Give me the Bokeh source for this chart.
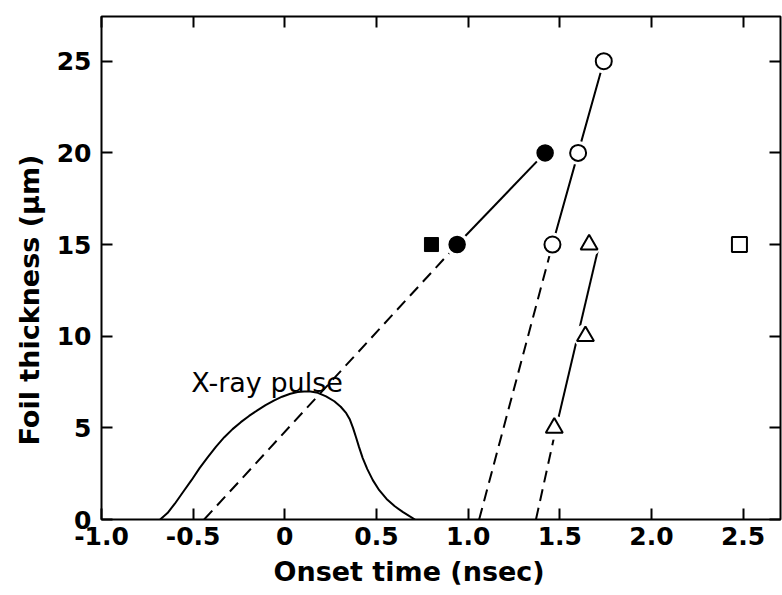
import math
from bokeh.plotting import figure
from bokeh.models import Range1d, FixedTicker, LinearAxis, Label, Title
from bokeh.embed import file_html
from bokeh.resources import INLINE

# ---------------- data ----------------
# onset time (nsec) vs foil thickness (um)
filled_circle_t = [0.94, 1.42]
filled_circle_d = [15, 20]
filled_square_t = [0.80]
filled_square_d = [15]
open_circle_t = [1.46, 1.60, 1.74]
open_circle_d = [15, 20, 25]
triangle_t = [1.47, 1.64, 1.66]
triangle_d = [5, 10, 15]
open_square_t = [2.48]
open_square_d = [15]

# fitted lines: solid through data, dashed extrapolation to zero thickness
fc_solid_t = [0.94, 1.42]
fc_solid_d = [15, 20]
fc_dash_t = [-0.44, 0.94]
fc_dash_d = [0, 15]
oc_solid_t = [1.46, 1.60, 1.74]
oc_solid_d = [15, 20, 25]
oc_dash_t = [1.06, 1.46]
oc_dash_d = [0, 15]
tr_solid_t = [1.48, 1.715]
tr_solid_d = [5, 15]
tr_dash_t = [1.37, 1.48]
tr_dash_d = [0, 5]

# X-ray pulse shape (arbitrary units, drawn on thickness scale)
pulse_t = [-0.68, -0.64, -0.60, -0.555, -0.51, -0.465, -0.42, -0.375, -0.33, -0.285,
           -0.24, -0.195, -0.15, -0.105, -0.06, -0.015, 0.03, 0.07, 0.105, 0.14,
           0.18, 0.225, 0.27, 0.305, 0.335, 0.355, 0.372, 0.388, 0.405, 0.425,
           0.45, 0.48, 0.515, 0.555, 0.60, 0.645, 0.68, 0.71]
pulse_d = [0.0, 0.35, 0.86, 1.50, 2.13, 2.80, 3.40, 3.98, 4.49, 4.93,
           5.31, 5.65, 5.95, 6.24, 6.49, 6.70, 6.86, 6.95, 6.98, 6.98,
           6.91, 6.72, 6.45, 6.15, 5.80, 5.45, 5.00, 4.50, 3.95, 3.35,
           2.75, 2.15, 1.60, 1.12, 0.72, 0.40, 0.18, 0.0]

x_ticks = [-1.0, -0.5, 0.0, 0.5, 1.0, 1.5, 2.0, 2.5]
x_tick_labels = ["-1.0", "-0.5", "0", "0.5", "1.0", "1.5", "2.0", "2.5"]
y_ticks = [0, 5, 10, 15, 20, 25]
y_tick_labels = ["0", "5", "10", "15", "20", "25"]

x_label = "Onset time (nsec)"
y_label = "Foil thickness (\u03bcm)"
pulse_label = "X-ray pulse"

FONT = "DejaVu Sans"

# ---------------- figure ----------------
p = figure(width=782, height=595, output_backend="svg", toolbar_location=None,
           x_range=Range1d(-1.0, 2.704), y_range=Range1d(0, 27.44),
           min_border_left=101, min_border_right=2, min_border_top=16,
           min_border_bottom=76, background_fill_color="white",
           border_fill_color="white")
# the frame outline acts as the four spines
p.outline_line_color = "black"
p.outline_line_width = 2
p.outline_line_alpha = 1.0
p.xgrid.visible = False
p.ygrid.visible = False


def style_axis(ax, ticks, labels, show_labels, standoff):
    ax.ticker = FixedTicker(ticks=ticks)
    ax.minor_tick_line_color = None
    ax.major_tick_in = 11
    ax.major_tick_out = 0
    ax.major_tick_line_width = 2
    ax.major_tick_line_color = "black"
    ax.axis_line_color = None
    if show_labels:
        ax.major_label_overrides = {t: l for t, l in zip(ticks, labels)}
        ax.major_label_text_font = FONT
        ax.major_label_text_font_style = "bold"
        ax.major_label_text_font_size = "25px"
        ax.major_label_text_color = "black"
        ax.major_label_standoff = standoff
    else:
        ax.major_label_text_font_size = "0px"
        ax.major_label_text_color = None
        ax.major_label_standoff = 0


style_axis(p.xaxis[0], x_ticks, x_tick_labels, True, 7)
style_axis(p.yaxis[0], y_ticks, y_tick_labels, True, 10)

top_ax = LinearAxis()
style_axis(top_ax, x_ticks, x_tick_labels, False, 0)
p.add_layout(top_ax, "above")
right_ax = LinearAxis()
style_axis(right_ax, y_ticks, y_tick_labels, False, 0)
p.add_layout(right_ax, "right")

# axis titles, off-centre as in the original figure
p.add_layout(Title(text=x_label, text_font=FONT, text_font_style="bold",
                   text_font_size="27px", text_color="black", align="left",
                   offset=172, standoff=12), "below")
p.add_layout(Title(text=y_label, text_font=FONT, text_font_style="bold",
                   text_font_size="27px", text_color="black", align="left",
                   offset=74, standoff=18), "left")

# ---------------- lines ----------------
p.line(pulse_t, pulse_d, line_color="black", line_width=2)
DASH = "12 7"
p.line(fc_dash_t, fc_dash_d, line_color="black", line_width=2, line_dash=DASH)
p.line(oc_dash_t, oc_dash_d, line_color="black", line_width=2, line_dash=DASH)
p.line(tr_dash_t, tr_dash_d, line_color="black", line_width=2, line_dash=DASH)
p.line(fc_solid_t, fc_solid_d, line_color="black", line_width=2)
p.line(oc_solid_t, oc_solid_d, line_color="black", line_width=2)
p.line(tr_solid_t, tr_solid_d, line_color="black", line_width=2)

# white halos so lines stop short of the markers
for xs, ys in [(filled_circle_t, filled_circle_d), (open_circle_t, open_circle_d),
               (triangle_t, triangle_d)]:
    p.scatter(xs, ys, marker="circle", size=24, fill_color="white", line_color=None)

# ---------------- markers ----------------
p.scatter(filled_circle_t, filled_circle_d, marker="circle", size=16,
          fill_color="black", line_color="black", line_width=1.5)
p.scatter(filled_square_t, filled_square_d, marker="square", size=14,
          fill_color="black", line_color="black", line_width=1)
p.scatter(open_circle_t, open_circle_d, marker="circle", size=16,
          fill_color="white", line_color="black", line_width=2)
p.scatter(triangle_t, triangle_d, marker="triangle", size=17,
          fill_color="white", line_color="black", line_width=2)
p.scatter(open_square_t, open_square_d, marker="square", size=15,
          fill_color="white", line_color="black", line_width=2)

# ---------------- texts ----------------
p.add_layout(Label(x=-0.51, y=7.5, text=pulse_label, text_font=FONT,
                   text_font_size="27px", text_color="black",
                   text_align="left", text_baseline="alphabetic"))

open("out.html", "w").write(file_html(p, INLINE))
